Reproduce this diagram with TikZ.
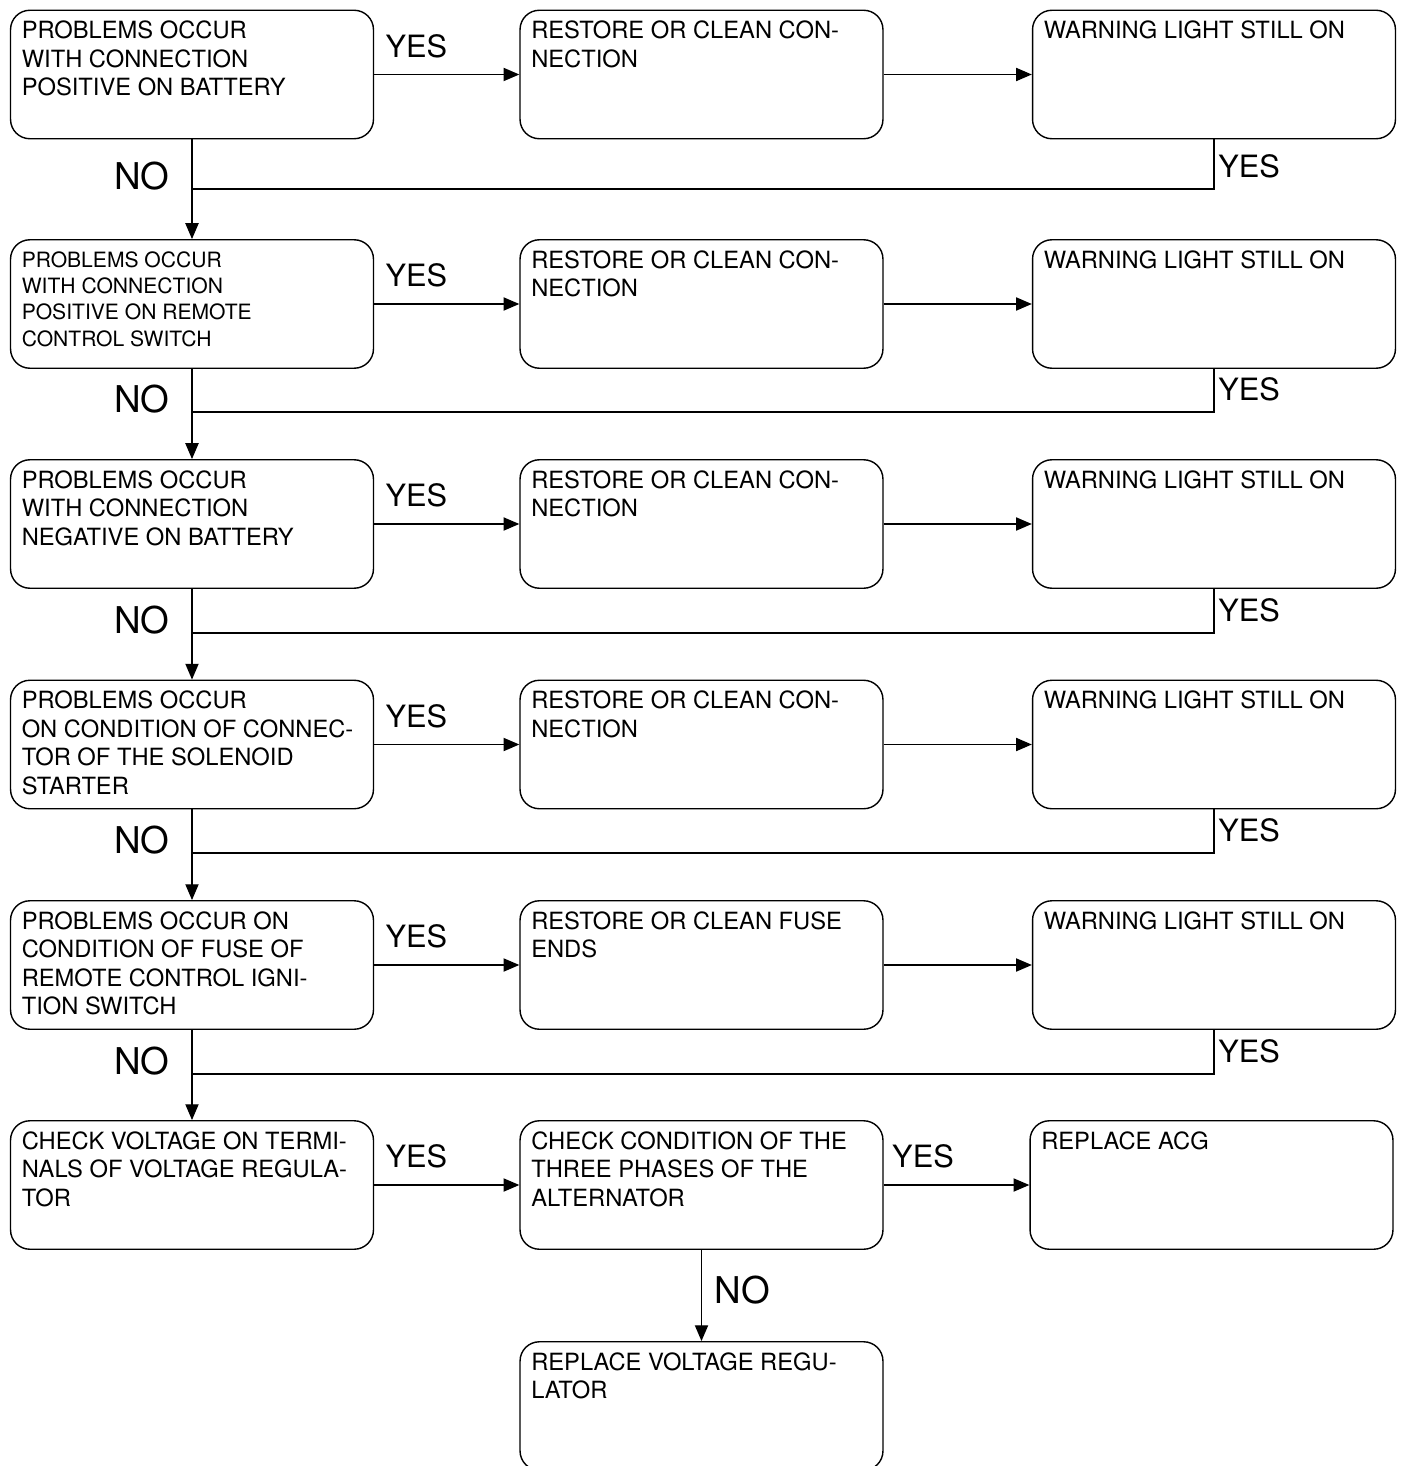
\documentclass[tikz,border=0pt]{standalone}
\usepackage{fontspec}
\setmainfont{TeX Gyre Heros}
\usetikzlibrary{arrows.meta,positioning,calc}
\newcommand{\boxfont}{\fontsize{13.5}{16.2}\selectfont}
\newcommand{\smallboxfont}{\fontsize{12}{15}\selectfont}
\tikzset{
  chkbox/.style = {draw, line width=0.8pt, rounded corners=11pt, rectangle,
                   minimum width=7.26cm, minimum height=2.57cm, inner sep=0pt},
  intext/.style = {anchor=north west, inner sep=0pt, align=left, font=\boxfont,
                   xshift=6.6pt, yshift=-6.3pt},
  sig/.style    = {-{Triangle[length=9pt,width=7.5pt]}, line width=0.8pt},
  ret/.style    = {line width=1.1pt},
  yeslbl/.style = {inner sep=0pt, font=\fontsize{17.5}{20}\selectfont},
  nolbl/.style  = {inner sep=0pt, font=\fontsize{21}{24}\selectfont},
}
\begin{document}
\begin{tikzpicture}[x=0.02cm,y=-0.02cm]
\useasboundingbox (0,0) rectangle (1405,1466);
% left column: the checks
\node[chkbox,label={[intext]north west:{PROBLEMS OCCUR\\WITH CONNECTION\\POSITIVE ON BATTERY}}] (a1) at (192,74.5) {};
\node[chkbox,label={[intext,font=\smallboxfont,yshift=-0.6pt]north west:{PROBLEMS OCCUR\\WITH CONNECTION\\POSITIVE ON REMOTE\\CONTROL SWITCH}}] (a2) at (192,304) {};
\node[chkbox,label={[intext]north west:{PROBLEMS OCCUR\\WITH CONNECTION\\NEGATIVE ON BATTERY}}] (a3) at (192,524) {};
\node[chkbox,label={[intext]north west:{PROBLEMS OCCUR\\ON CONDITION OF CONNEC-\\TOR OF THE SOLENOID\\STARTER}}] (a4) at (192,744.5) {};
\node[chkbox,label={[intext]north west:{PROBLEMS OCCUR ON\\CONDITION OF FUSE OF\\REMOTE CONTROL IGNI-\\TION SWITCH}}] (a5) at (192,965) {};
\node[chkbox,label={[intext]north west:{CHECK VOLTAGE ON TERMI-\\NALS OF VOLTAGE REGULA-\\TOR}}] (a6) at (192,1185) {};
% rows 1-5: repair, then check the light again
\foreach \r/\y/\yr/\txt in {1/74.5/189/{RESTORE OR CLEAN CON-\\NECTION},
                            2/304/412/{RESTORE OR CLEAN CON-\\NECTION},
                            3/524/633/{RESTORE OR CLEAN CON-\\NECTION},
                            4/744.5/853/{RESTORE OR CLEAN CON-\\NECTION},
                            5/965/1074/{RESTORE OR CLEAN FUSE\\ENDS}}{
  \pgfmathtruncatemacro\nx{\r+1}
  \node[chkbox,label={[intext]north west:{\txt}}] (b\r) at (701.5,\y) {};
  \node[chkbox,label={[intext]north west:{WARNING LIGHT STILL ON}}] (c\r) at (1214,\y) {};
  \draw[sig] (a\r) -- node[yeslbl,pos=0.29,above=9pt] (y\r) {YES} (b\r);
  \draw[sig] (b\r) -- (c\r);
  \coordinate (j\r) at (192,\yr);
  \draw[ret] (c\r.south) |- (j\r);
  \draw[sig] (a\r.south) -- (a\nx.north);
  \node[nolbl,anchor=east] (n\r) at (170,{\yr-13}) {NO};
  \node[yeslbl,anchor=west] (w\r) at (1218,{\yr-23}) {YES};
}
% last row
\node[chkbox,label={[intext]north west:{CHECK CONDITION OF THE\\THREE PHASES OF THE\\ALTERNATOR}}] (b6) at (701.5,1185) {};
\node[chkbox,label={[intext]north west:{REPLACE ACG}}] (c6) at (1211.5,1185) {};
\node[chkbox,label={[intext]north west:{REPLACE VOLTAGE REGU-\\LATOR}}] (b7) at (701.5,1406) {};
\draw[sig] (a6) -- node[yeslbl,pos=0.29,above=9pt] (y6) {YES} (b6);
\draw[sig] (b6) -- node[yeslbl,pos=0.27,above=9pt] (y7) {YES} (c6);
\draw[sig] (b6) -- node[nolbl,pos=0.44,right=7pt] (n7) {NO} (b7);
\end{tikzpicture}
\end{document}
